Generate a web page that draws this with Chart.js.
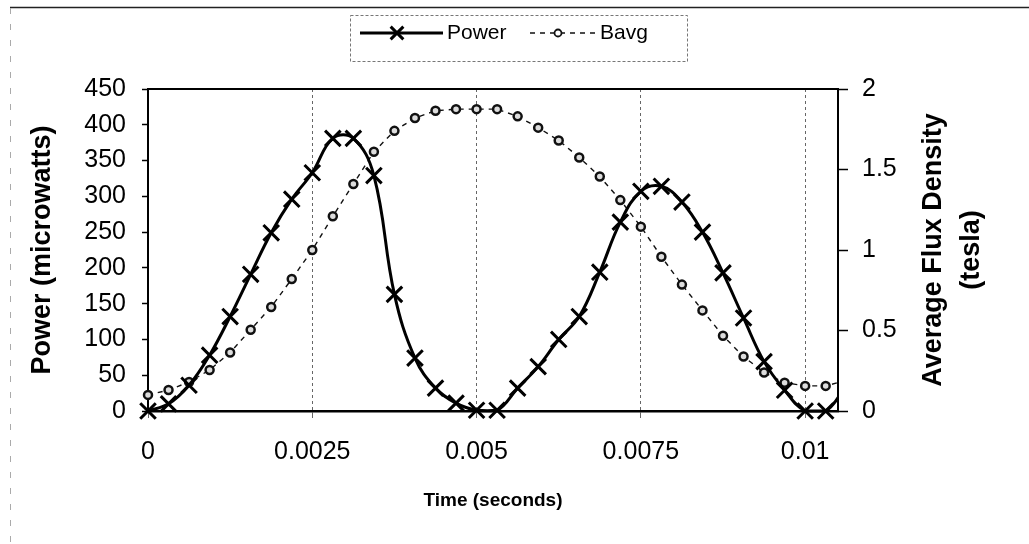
<!DOCTYPE html>
<html>
<head>
<meta charset="utf-8">
<title>Power and Bavg vs Time</title>
<script src="https://cdn.jsdelivr.net/npm/chart.js@4.4.1/dist/chart.umd.min.js"></script>
<style>
  html, body { margin: 0; padding: 0; background: #fff; }
  #wrap { position: relative; width: 1029px; height: 544px; }
</style>
</head>
<body>
<div id="wrap"><canvas id="chart"></canvas></div>
<script>
// sample times (s)
const timeSeconds = [0, 0.0003125, 0.000625, 0.0009375, 0.00125, 0.0015625, 0.001875, 0.0021875,
  0.0025, 0.0028125, 0.003125, 0.0034375, 0.00375, 0.0040625, 0.004375, 0.0046875,
  0.005, 0.0053125, 0.005625, 0.0059375, 0.00625, 0.0065625, 0.006875, 0.0071875,
  0.0075, 0.0078125, 0.008125, 0.0084375, 0.00875, 0.0090625, 0.009375, 0.0096875,
  0.01, 0.0103125, 0.010625];

const powerMicrowatts = [0, 10, 36, 78, 132, 191, 249, 296, 333, 381, 381, 329, 163, 74, 32, 11,
  1, 1, 32, 62, 100, 132, 194, 264, 307, 314, 292, 250, 193, 130, 69, 29,
  0, 0, 35];

const bavgTesla = [0.1, 0.13, 0.18, 0.255, 0.363, 0.505, 0.646, 0.82, 1.0, 1.21, 1.41, 1.61, 1.74, 1.82, 1.865, 1.875,
  1.875, 1.875, 1.83, 1.76, 1.68, 1.575, 1.456, 1.31, 1.145, 0.958, 0.785, 0.625, 0.467, 0.338, 0.239, 0.176,
  0.156, 0.156, 0.19];

const timeTicks = [0, 0.0025, 0.005, 0.0075, 0.01];
const timeTickLabels = ["0", "0.0025", "0.005", "0.0075", "0.01"];
const powerTicks = [0, 50, 100, 150, 200, 250, 300, 350, 400, 450];
const fluxTicks = [0, 0.5, 1, 1.5, 2];
const fluxTickLabels = ["0", "0.5", "1", "1.5", "2"];

const FONT = '"Liberation Sans", Arial, Helvetica, sans-serif';
Chart.defaults.font.family = FONT;
Chart.defaults.color = "#000";

const toPoints = (ys) => timeSeconds.map((t, i) => ({ x: t, y: ys[i] }));

// frame, plot top edge, right axis title and the boxed legend
const extras = {
  id: "extras",
  beforeDraw(chart) {
    const ctx = chart.ctx;
    ctx.save();
    ctx.strokeStyle = "#222";
    ctx.lineWidth = 1.5;
    ctx.beginPath();
    ctx.moveTo(10, 7.5);
    ctx.lineTo(1029, 7.5);
    ctx.stroke();
    ctx.strokeStyle = "#aaa";
    ctx.lineWidth = 1;
    ctx.setLineDash([6, 10]);
    ctx.beginPath();
    ctx.moveTo(10.5, 8);
    ctx.lineTo(10.5, 544);
    ctx.stroke();
    ctx.restore();
  },
  afterDraw(chart) {
    const ctx = chart.ctx;
    const area = chart.chartArea;
    ctx.save();

    // top edge of plot area
    ctx.strokeStyle = "#000";
    ctx.lineWidth = 2;
    ctx.beginPath();
    ctx.moveTo(area.left, area.top);
    ctx.lineTo(area.right, area.top);
    ctx.stroke();

    // right axis title, reads bottom to top
    ctx.fillStyle = "#000";
    ctx.font = "bold 27px " + FONT;
    ctx.textAlign = "center";
    ctx.textBaseline = "middle";
    const midY = (area.top + area.bottom) / 2;
    ctx.translate(934, midY);
    ctx.rotate(-Math.PI / 2);
    ctx.fillText("Average Flux Density", 0, 0);
    ctx.fillText("(tesla)", 0, 38);
    ctx.restore();

    // legend
    const [power, bavg] = chart.data.datasets;
    const ly = 33;
    ctx.save();
    ctx.strokeStyle = "#777";
    ctx.lineWidth = 1;
    ctx.setLineDash([3, 2]);
    ctx.strokeRect(350.5, 15.5, 337, 46);

    ctx.setLineDash([]);
    ctx.strokeStyle = power.borderColor;
    ctx.lineWidth = power.borderWidth;
    ctx.beginPath();
    ctx.moveTo(360, ly);
    ctx.lineTo(443, ly);
    ctx.stroke();
    ctx.fillStyle = "#000";
    Chart.helpers.drawPoint(ctx, { pointStyle: "crossRot", radius: 9, borderWidth: 3, rotation: 0 }, 397, ly);

    ctx.strokeStyle = bavg.borderColor;
    ctx.lineWidth = bavg.borderWidth;
    ctx.setLineDash(bavg.borderDash);
    ctx.beginPath();
    ctx.moveTo(530, ly);
    ctx.lineTo(596, ly);
    ctx.stroke();
    ctx.setLineDash([]);
    ctx.lineWidth = 1.8;
    ctx.fillStyle = "#fff";
    Chart.helpers.drawPoint(ctx, { pointStyle: "circle", radius: 3.5, borderWidth: 1.8, rotation: 0 }, 558, ly);

    ctx.fillStyle = "#000";
    ctx.font = "21px " + FONT;
    ctx.textAlign = "left";
    ctx.textBaseline = "middle";
    ctx.fillText("Power", 447, ly);
    ctx.fillText("Bavg", 600, ly);
    ctx.restore();
  }
};

new Chart(document.getElementById("chart"), {
  type: "line",
  data: {
    datasets: [
      {
        label: "Power",
        data: toPoints(powerMicrowatts),
        yAxisID: "y",
        borderColor: "#000",
        borderWidth: 3,
        tension: 0.4,
        pointStyle: "crossRot",
        pointRadius: 11,
        pointBorderWidth: 3,
        pointBorderColor: "#000",
        pointBackgroundColor: "#000",
        clip: { left: 14, top: 14, right: 0, bottom: 14 }
      },
      {
        label: "Bavg",
        data: toPoints(bavgTesla),
        yAxisID: "y1",
        borderColor: "#111",
        borderWidth: 1.4,
        borderDash: [5, 5],
        tension: 0,
        pointStyle: "circle",
        pointRadius: 4,
        pointBorderWidth: 2.5,
        pointBorderColor: "#111",
        pointBackgroundColor: "#ddd",
        clip: { left: 14, top: 14, right: 0, bottom: 14 }
      }
    ]
  },
  options: {
    responsive: true,
    maintainAspectRatio: false,
    animation: false,
    layout: { padding: { top: 89, left: 0, right: 0, bottom: 0 } },
    plugins: {
      legend: { display: false },
      tooltip: { enabled: false }
    },
    scales: {
      x: {
        type: "linear",
        min: 0,
        max: 0.0105,
        afterFit(s) { s.height = 133; },
        afterBuildTicks(s) { s.ticks = timeTicks.map(v => ({ value: v })); },
        ticks: {
          callback: (v, i) => timeTickLabels[i],
          font: { size: 25 },
          padding: 19,
          maxRotation: 0,
          autoSkip: false
        },
        grid: {
          color: (c) => (c.index === 0 ? "rgba(0,0,0,0)" : "#666"),
          lineWidth: 1,
          tickLength: 7,
          tickColor: "#666",
          tickBorderDash: []
        },
        border: { color: "#000", width: 2.5, dash: [3, 3] },
        title: {
          display: true,
          text: "Time (seconds)",
          font: { size: 19, weight: "bold" },
          padding: { top: 0, bottom: 32 }
        }
      },
      y: {
        position: "left",
        min: 0,
        max: 450,
        afterFit(s) { s.width = 148; },
        afterBuildTicks(s) { s.ticks = powerTicks.map(v => ({ value: v })); },
        ticks: { font: { size: 25 }, padding: 16, callback: v => String(v) },
        grid: { drawOnChartArea: false, tickLength: 6, tickColor: "#000", tickWidth: 1.5 },
        border: { color: "#000", width: 2 },
        title: {
          display: true,
          text: "Power (microwatts)",
          font: { size: 27, weight: "bold" },
          padding: { top: 26, bottom: 0 }
        }
      },
      y1: {
        position: "right",
        min: 0,
        max: 2,
        afterFit(s) { s.width = 191; },
        afterBuildTicks(s) { s.ticks = fluxTicks.map(v => ({ value: v })); },
        ticks: { font: { size: 25 }, padding: 14, callback: (v, i) => fluxTickLabels[i] },
        grid: { drawOnChartArea: false, tickLength: 10, tickColor: "#000", tickWidth: 1.5 },
        border: { color: "#000", width: 2 }
      }
    }
  },
  plugins: [extras]
});
</script>
</body>
</html>
